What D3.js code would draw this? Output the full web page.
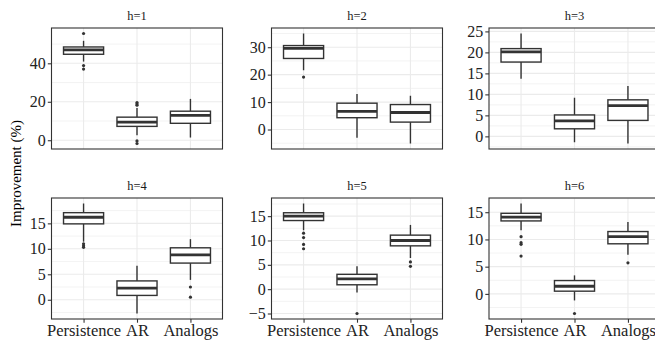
<!DOCTYPE html>
<html>
<head>
<meta charset="utf-8">
<script src="https://cdn.jsdelivr.net/npm/d3@7"></script>
<style>
body { margin: 0; background: #fff; }
</style>
</head>
<body>
<script>
// boxplot summaries, one row per horizon, columns = methods
var methods = ["Persistence", "AR", "Analogs"];
var horizons = ["h=1", "h=2", "h=3", "h=4", "h=5", "h=6"];

var lo  = [[40.9, 2.6, 1.4], [21.6, -3.0, -5.1], [13.7, -1.4, -1.7], [11.4, -2.7, 3.9], [12.1, -0.7, 6.4], [11.7, -1.2, 7.2]];
var q1  = [[44.7, 7.2, 8.8], [25.9, 4.3, 2.7], [17.7, 1.8, 3.8], [14.9, 0.85, 7.2], [14.1, 0.9, 8.9], [13.4, 0.5, 9.2]];
var med = [[47.0, 9.4, 12.9], [29.6, 6.6, 6.2], [20.1, 3.7, 7.3], [16.2, 2.3, 8.8], [15.0, 2.1, 10.0], [14.1, 1.4, 10.5]];
var q3  = [[48.5, 12.0, 15.1], [30.6, 9.6, 9.1], [20.9, 5.1, 8.7], [17.1, 3.7, 10.2], [15.7, 3.05, 11.1], [14.8, 2.45, 11.45]];
var hi  = [[51.7, 16.8, 21.5], [35.0, 12.9, 12.3], [24.5, 9.2, 12.0], [18.9, 6.7, 11.9], [17.6, 4.7, 13.2], [16.6, 3.4, 13.2]];
var outliers = [
    [[55.5, 38.8, 37.0], [19.6, 18.9, 18.2, -0.35, -1.7], []],
    [[19.1], [], []],
    [[], [], []],
    [[11.0, 10.6, 10.3], [], [2.5, 0.5]],
    [[11.5, 10.6, 9.2, 8.3], [-5.0], [5.6, 4.7]],
    [[10.5, 9.4, 9.1, 6.95], [-3.6], [5.7]]
];
var yTicks = [[0, 20, 40], [0, 10, 20, 30], [0, 5, 10, 15, 20, 25], [0, 5, 10, 15], [-5, 0, 5, 10, 15], [0, 5, 10, 15]];

var width = 655, height = 343;
var panelW = 171, panelH = 121;
var lefts = [51.5, 271.5, 489];
var tops = [28, 198];
var ink = '#333333';
var serif = '"Liberation Serif", "Times New Roman", serif';

var svg = d3.select('body').append('svg')
        .attr('width', width)
        .attr('height', height)
        .attr('font-family', serif);

var fmt = function(d){ return d < 0 ? '\u2212' + Math.abs(d) : String(d); };

horizons.forEach(function(h, i){
    var col = i % 3, row = Math.floor(i / 3);
    var g = svg.append('g')
            .attr('transform', 'translate(' + lefts[col] + ',' + tops[row] + ')');

    var all = lo[i].concat(hi[i], d3.merge(outliers[i]));
    var ext = d3.extent(all);
    var pad = (ext[1] - ext[0]) * 0.05;
    var y = d3.scaleLinear()
        .domain([ext[0] - pad, ext[1] + pad])
        .range([panelH, 0]);
    var x = d3.scalePoint()
        .domain(methods)
        .range([0, panelW])
        .padding(0.6);
    var bw = x.step() * 0.75;

    g.append('rect')
        .attr('width', panelW).attr('height', panelH)
        .attr('fill', '#fff');

    // minor y grid: halfway between breaks
    var tk = yTicks[i], step = tk[1] - tk[0];
    var minors = [];
    for (var v = tk[0] - step / 2; v <= tk[tk.length - 1] + step; v += step) minors.push(v);
    minors = minors.filter(function(m){ return m >= y.domain()[0] && m <= y.domain()[1]; });

    g.selectAll('.minor').data(minors).enter().append('line')
        .attr('x1', 0).attr('x2', panelW)
        .attr('y1', function(d){ return y(d); }).attr('y2', function(d){ return y(d); })
        .attr('stroke', '#ebebeb').attr('stroke-width', 0.6);
    g.selectAll('.major').data(tk).enter().append('line')
        .attr('x1', 0).attr('x2', panelW)
        .attr('y1', function(d){ return y(d); }).attr('y2', function(d){ return y(d); })
        .attr('stroke', '#ebebeb').attr('stroke-width', 1.1);
    g.selectAll('.vmajor').data(methods).enter().append('line')
        .attr('x1', function(d){ return x(d); }).attr('x2', function(d){ return x(d); })
        .attr('y1', 0).attr('y2', panelH)
        .attr('stroke', '#ebebeb').attr('stroke-width', 1.1);

    methods.forEach(function(m, j){
        var cx = x(m);
        var bg = g.append('g');
        bg.append('line')
            .attr('x1', cx).attr('x2', cx)
            .attr('y1', y(hi[i][j])).attr('y2', y(q3[i][j]))
            .attr('stroke', ink).attr('stroke-width', 1.4);
        bg.append('line')
            .attr('x1', cx).attr('x2', cx)
            .attr('y1', y(q1[i][j])).attr('y2', y(lo[i][j]))
            .attr('stroke', ink).attr('stroke-width', 1.4);
        bg.append('rect')
            .attr('x', cx - bw / 2).attr('width', bw)
            .attr('y', y(q3[i][j])).attr('height', y(q1[i][j]) - y(q3[i][j]))
            .attr('fill', '#fff').attr('stroke', ink).attr('stroke-width', 1.4);
        bg.append('line')
            .attr('x1', cx - bw / 2).attr('x2', cx + bw / 2)
            .attr('y1', y(med[i][j])).attr('y2', y(med[i][j]))
            .attr('stroke', ink).attr('stroke-width', 2.8);
        bg.selectAll('circle').data(outliers[i][j]).enter().append('circle')
            .attr('cx', cx).attr('cy', function(d){ return y(d); })
            .attr('r', 1.6).attr('fill', ink);
    });

    g.append('rect')
        .attr('width', panelW).attr('height', panelH)
        .attr('fill', 'none').attr('stroke', ink).attr('stroke-width', 1.1);

    var yAxis = d3.axisLeft(y).tickValues(tk).tickSize(3.7).tickPadding(2).tickFormat(fmt);
    var ya = g.append('g').call(yAxis)
        .attr('font-family', serif).attr('font-size', 16);
    ya.select('.domain').remove();
    ya.selectAll('line').attr('stroke', ink).attr('stroke-width', 1.1);
    ya.selectAll('text').attr('fill', '#222');

    if (row === 1) {
        var xa = g.append('g')
            .attr('transform', 'translate(0,' + panelH + ')')
            .call(d3.axisBottom(x).tickSize(3.7).tickPadding(2))
            .attr('font-family', serif).attr('font-size', 16.5);
        xa.select('.domain').remove();
        xa.selectAll('line').attr('stroke', ink).attr('stroke-width', 1.1);
        xa.selectAll('text').attr('fill', '#222');
    }

    g.append('text')
        .attr('x', panelW / 2).attr('y', -8)
        .attr('text-anchor', 'middle')
        .attr('font-size', 12.5).attr('fill', '#1a1a1a')
        .text(h);
});

svg.append('text')
    .attr('transform', 'translate(20.5,173.5) rotate(-90)')
    .attr('text-anchor', 'middle')
    .attr('font-size', 15)
    .attr('fill', '#000')
    .text('Improvement (%)');
</script>
</body>
</html>
